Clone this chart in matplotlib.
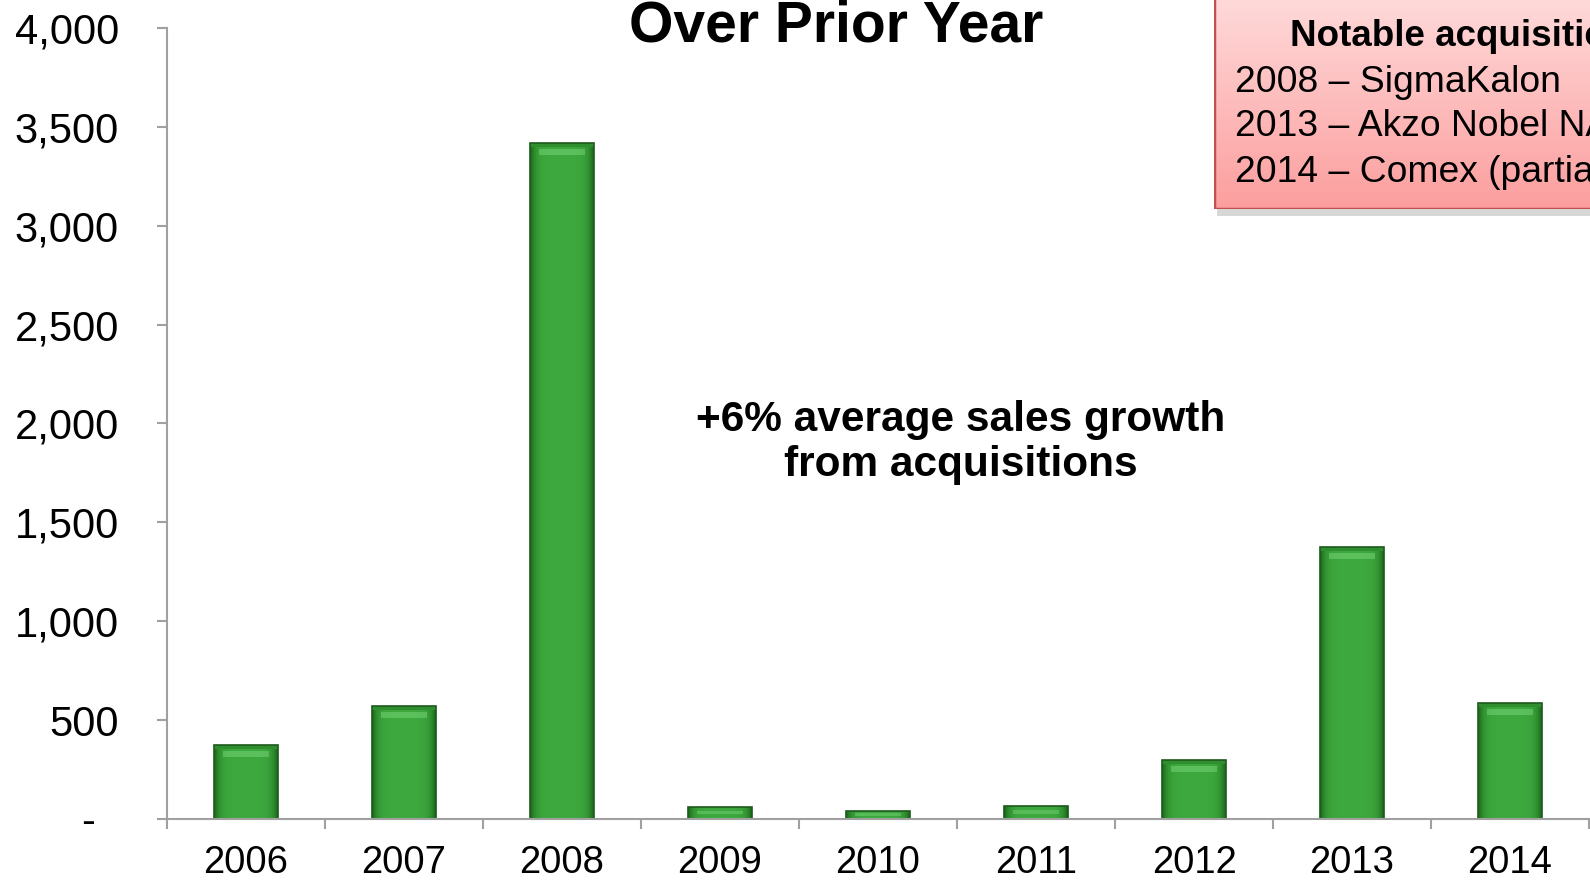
import matplotlib
matplotlib.use("Agg")
import matplotlib.pyplot as plt
import numpy as np
from matplotlib.patches import Rectangle
from matplotlib.ticker import FuncFormatter, FixedLocator

plt.rcParams['font.family'] = ['Liberation Sans', 'DejaVu Sans']

# Sales added from acquisitions, by year
years = ['2006', '2007', '2008', '2009', '2010', '2011', '2012', '2013', '2014']
sales = [374, 571, 3420, 61, 40, 66, 296, 1373, 588]

titulo = 'Over Prior Year'
nota = '+6% average sales growth\nfrom acquisitions'
caja_titulo = 'Notable acquisitions:'
caja_lineas = ['2008 \u2013 SigmaKalon', '2013 \u2013 Akzo Nobel NA', '2014 \u2013 Comex (partial)']

fig = plt.figure(figsize=(15.9, 8.81), dpi=100)
ax = fig.add_axes([0.105, 0.0704, 0.8944, 0.8978])

x = np.arange(len(years))
ancho = 0.40
barras = ax.bar(x, sales, width=ancho, color='#34a034', edgecolor='#1d5a1d', linewidth=1.2, zorder=2)

# sombreado horizontal de cada barra (bordes oscuros, centro claro)
grad = np.linspace(-1, 1, 64)
perfil = 1 - np.abs(grad) ** 6
verde_osc = np.array([0.10, 0.40, 0.10])
verde_cla = np.array([0.24, 0.66, 0.24])
img = verde_osc + (verde_cla - verde_osc) * perfil[:, None]
img = img[None, :, :]
unidad_px = 4000 / 791  # unidades de datos por pixel en vertical
for b in barras:
    x0 = b.get_x()
    h = b.get_height()
    im = ax.imshow(img, extent=(x0, x0 + ancho, 0, h), aspect='auto', zorder=2.1,
                   interpolation='bicubic')
    im.set_clip_path(b)
    # bisel superior: franja clara debajo del borde
    if h > 15 * unidad_px:
        ax.add_patch(Rectangle((x0 + ancho * 0.14, h - 12 * unidad_px), ancho * 0.72, 6 * unidad_px,
                               facecolor='#80dc80', edgecolor='none', alpha=0.45, zorder=2.2))
        ax.add_patch(Rectangle((x0, h - 4 * unidad_px), ancho, 4 * unidad_px,
                               facecolor='#2f8f2f', edgecolor='none', zorder=2.2))
    else:
        ax.add_patch(Rectangle((x0 + ancho * 0.14, h * 0.4), ancho * 0.72, h * 0.3,
                               facecolor='#80dc80', edgecolor='none', alpha=0.4, zorder=2.2))
    b.set_facecolor('none')
    b.set_zorder(2.3)

ax.set_xlim(-0.5, len(years) - 0.5)
ax.set_ylim(0, 4000)
ax.set_xticks(x)
ax.set_xticklabels(years)
ax.xaxis.set_minor_locator(FixedLocator(np.arange(-0.5, len(years), 1.0)))
ax.tick_params(axis='x', which='major', length=0, pad=19, labelsize=27.5)
ax.tick_params(axis='x', which='minor', length=7.5, width=1.5, color='#a0a0a0', direction='out')
ax.set_yticks(np.arange(0, 4001, 500))
# el cero se muestra como guion, estilo contable
ax.yaxis.set_major_formatter(FuncFormatter(lambda v, p: '-  ' if v == 0 else f'{int(v):,}'))
ax.tick_params(axis='y', length=7.5, width=1.5, color='#a0a0a0', pad=27, labelsize=30)

for s in ['top', 'right']:
    ax.spines[s].set_visible(False)
for s in ['left', 'bottom']:
    ax.spines[s].set_color('#a0a0a0')
    ax.spines[s].set_linewidth(1.5)

fig.text(0.526, 1 - 41 / 881, titulo, ha='center', va='baseline', fontsize=41, fontweight='bold')
fig.text(0.604, 0.498, nota, ha='center', va='center', fontsize=30.5, fontweight='bold', linespacing=1.15)

# recuadro de adquisiciones con degradado rosa
cx0, cy0 = 1214 / 1590, 1 - 209 / 881
cx1, cy1 = 1.05, 1.05
caja_ax = fig.add_axes([cx0, cy0, cx1 - cx0, cy1 - cy0], zorder=5)
caja_ax.set_xlim(0, 1)
caja_ax.set_ylim(0, 1)
caja_ax.axis('off')
rosa = np.linspace(0, 1, 100)
c_arriba = np.array([1.0, 0.90, 0.90])
c_abajo = np.array([0.99, 0.62, 0.62])
grad_caja = c_arriba + (c_abajo - c_arriba) * rosa[:, None]
caja_ax.imshow(grad_caja[:, None, :], extent=(0, 1, 0, 1), aspect='auto', zorder=1)
caja_ax.add_patch(Rectangle((0, 0), 1, 1, facecolor='none', edgecolor='#c0504d', linewidth=2.5, zorder=2))
sombra = Rectangle((cx0 + 0.002, cy0 - 0.008), cx1 - cx0, cy1 - cy0, transform=fig.transFigure,
                   facecolor='#b0b0b0', edgecolor='none', alpha=0.5, zorder=4)
fig.patches.append(sombra)

fig.text(1290 / 1590, 1 - 37 / 881, caja_titulo, ha='left', va='center', fontsize=26.5,
         fontweight='bold', zorder=6)
for i, linea in enumerate(caja_lineas):
    fig.text(1235 / 1590, 1 - (82 + 45 * i) / 881, linea, ha='left', va='center', fontsize=26.8, zorder=6)

fig.savefig('out.png', dpi=100)
